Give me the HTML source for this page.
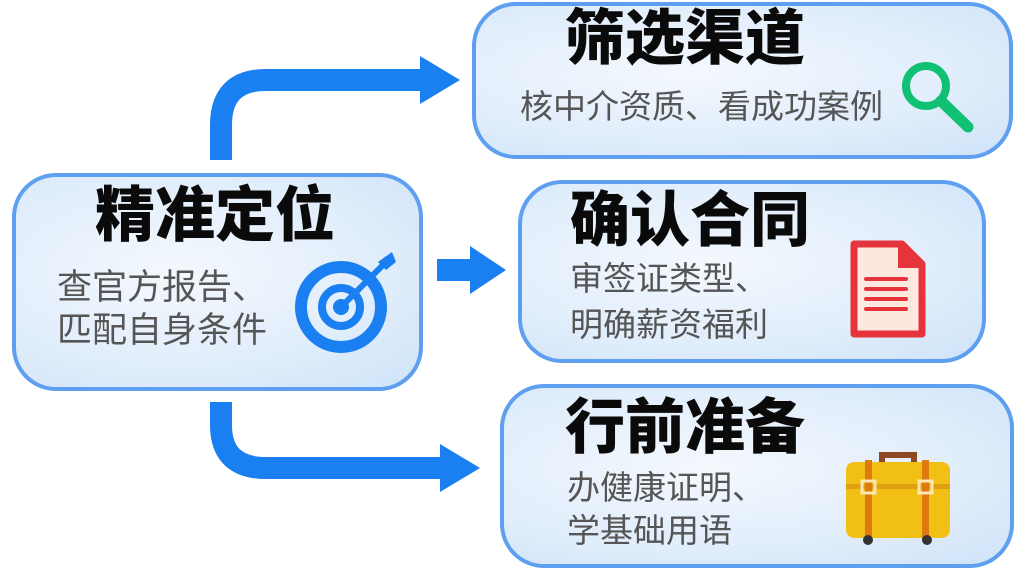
<!DOCTYPE html>
<html><head><meta charset="utf-8"><style>
body{margin:0;width:1024px;height:566px;background:#fff;position:relative;overflow:hidden;font-family:"Liberation Sans","Noto Sans CJK SC",sans-serif}
.box{position:absolute;border:4px solid #5e9ff0;border-radius:44px;background:radial-gradient(ellipse at 40% 45%,#f4f8fd 0%,#e0edfb 60%,#cfe3f8 100%);box-sizing:border-box}
.t{position:absolute;font-weight:900;font-size:60px;color:#0a0a0a;white-space:nowrap;line-height:1}
.s{position:absolute;font-size:35px;color:#555;white-space:nowrap;line-height:43px}
svg{position:absolute;left:0;top:0}
</style></head><body>
<div class="box" style="left:12px;top:173px;width:411px;height:218px"></div>
<div class="box" style="left:472px;top:2px;width:541px;height:157px"></div>
<div class="box" style="left:518px;top:180px;width:468px;height:183px"></div>
<div class="box" style="left:500px;top:384px;width:514px;height:184px"></div>

<div class="t" style="left:95px;top:186px">精准定位</div>
<div class="s" style="left:57px;top:266px">查官方报告、<br>匹配自身条件</div>
<div class="t" style="left:565px;top:9px">筛选渠道</div>
<div class="s" style="left:520px;top:85px;font-size:33px">核中介资质、看成功案例</div>
<div class="t" style="left:570px;top:191px">确认合同</div>
<div class="s" style="left:570px;top:256px;font-size:33px;line-height:46px">审签证类型、<br>明确薪资福利</div>
<div class="t" style="left:565px;top:398px">行前准备</div>
<div class="s" style="left:567px;top:466px;font-size:33px;line-height:43px">办健康证明、<br>学基础用语</div>

<svg width="1024" height="566">
<g fill="none" stroke="#1a7ff0" stroke-width="22">
<path d="M221 160 V125 Q221 80 266 80 H425"/>
<path d="M221 402 V425 Q221 468 266 468 H445"/>
</g>
<g fill="#1a7ff0">
<polygon points="420,56 460,80 420,104"/>
<polygon points="440,444 480,468 440,492"/>
<rect x="437" y="259" width="36" height="22"/>
<polygon points="470,246 506,270 470,294"/>
</g>
<circle cx="341" cy="307" r="40" fill="none" stroke="#1a7ff0" stroke-width="12"/>
<circle cx="341" cy="307" r="19" fill="none" stroke="#1a7ff0" stroke-width="8"/>
<circle cx="341" cy="307" r="8" fill="#1a7ff0"/>
<line x1="341" y1="307" x2="385" y2="263" stroke="#1a7ff0" stroke-width="6"/>
<polygon points="378,262 392,252 396,262 386,270" fill="#1a7ff0"/>
<circle cx="926" cy="86" r="20" fill="none" stroke="#10c073" stroke-width="8"/>
<line x1="941" y1="101" x2="968" y2="127" stroke="#10c073" stroke-width="11" stroke-linecap="round"/>
<path d="M854 244 H902 L922 264 V334 H854 Z" fill="#fde8df" stroke="#e6343c" stroke-width="7" stroke-linejoin="round"/>
<path d="M898 244 V268 H922 Z" fill="#e6343c"/>
<g stroke="#e6343c" stroke-width="4" stroke-linecap="round"><line x1="866" y1="279" x2="906" y2="279"/><line x1="866" y1="289" x2="906" y2="289"/><line x1="866" y1="299" x2="906" y2="299"/><line x1="866" y1="309" x2="906" y2="309"/></g>
<path d="M882 470 V455 H914 V470" fill="none" stroke="#8b4a22" stroke-width="6"/>
<rect x="846" y="462" width="104" height="76" rx="8" fill="#f2c014"/>
<rect x="846" y="484" width="104" height="5" fill="#e0a010"/>
<rect x="865" y="460" width="7" height="80" fill="#df7a10"/>
<rect x="922" y="460" width="7" height="80" fill="#df7a10"/>
<rect x="862" y="481" width="13" height="12" fill="none" stroke="#fbe7b5" stroke-width="3"/>
<rect x="919" y="481" width="13" height="12" fill="none" stroke="#fbe7b5" stroke-width="3"/>
<circle cx="868" cy="540" r="5" fill="#333"/><circle cx="927" cy="540" r="5" fill="#333"/>
</svg>
</body></html>
